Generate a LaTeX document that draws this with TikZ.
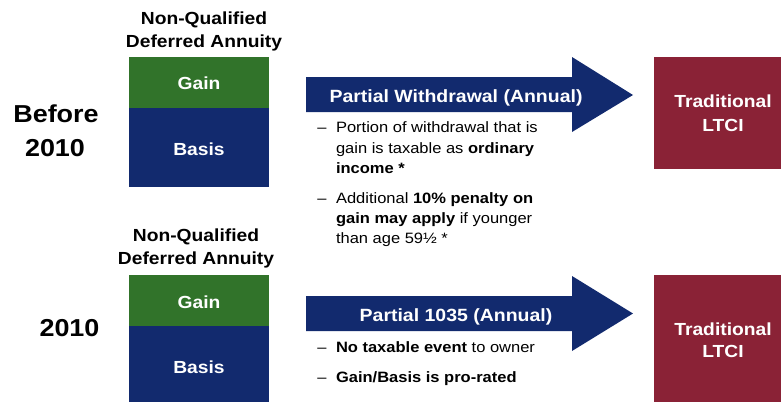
\documentclass[tikz,border=0pt]{standalone}
\usepackage{fontspec}
\setmainfont{Liberation Sans}[FakeStretch=1.1]
\definecolor{gaingreen}{HTML}{31732A}
\definecolor{basisnavy}{HTML}{122A6E}
\definecolor{ltcired}{HTML}{8A2236}
\begin{document}
\begin{tikzpicture}[x=1pt,y=-1pt,
  every node/.style={inner sep=0pt,outer sep=0pt},
  block/.style={anchor=north west,minimum width=#1,minimum height=0pt},
  era/.style={anchor=base,font=\fontsize{24.5}{28}\selectfont\bfseries},
  heading/.style={anchor=base,font=\fontsize{17.5}{21}\selectfont\bfseries},
  boxlabel/.style={anchor=base,text=white,font=\fontsize{17.5}{21}\selectfont\bfseries},
  arrowlabel/.style={anchor=base,text=white,font=\fontsize{17.7}{21}\selectfont\bfseries},
  bulletline/.style={anchor=base west,font=\fontsize{15}{20}\selectfont},
  bulletdash/.style={anchor=base,font=\fontsize{15}{20}\selectfont}]
\useasboundingbox (0,0) rectangle (781,402);

% ---------- before 2010 ----------
\node[era] (before1) at (56,122) {Before};
\node[era] (before2) at (55,156) {2010};

\node[heading] (nq1) at (204,24) {Non-Qualified};
\node[heading] (da1) at (204,47) {Deferred Annuity};

\fill[gaingreen] (129,57) rectangle (269,108);
\fill[basisnavy] (129,108) rectangle (269,187);
\coordinate (gainbox1) at (199,82.5);
\coordinate (basisbox1) at (199,147.5);
\node[boxlabel] (gain1) at (199,89) {Gain};
\node[boxlabel] (basis1) at (199,155) {Basis};

\fill[basisnavy] (306,77) -- (572,77) -- (572,57) -- (633,95)
  -- (572,132) -- (572,112) -- (306,112) -- cycle;
\node[arrowlabel] (pw) at (456,102) {Partial Withdrawal (Annual)};

\node[bulletdash] (d11) at (322,132) {–};
\node[bulletline] (b11) at (336,132) {Portion of withdrawal that is};
\node[bulletline] (b12) at (336,153) {gain is taxable as \textbf{ordinary}};
\node[bulletline] (b13) at (336,173) {\textbf{income *}};
\node[bulletdash] (d12) at (322,203) {–};
\node[bulletline] (b14) at (336,203) {Additional \textbf{10\% penalty on}};
\node[bulletline] (b15) at (336,223) {\textbf{gain may apply} if younger};
\node[bulletline] (b16) at (336,243) {than age 59½ *};

\fill[ltcired] (654,57) rectangle (781,169);
\node[boxlabel] (lt1) at (723,107) {Traditional};
\node[boxlabel] (lt2) at (723,131) {LTCI};

% ---------- 2010 ----------
\node[era] (y2010) at (69.5,336) {2010};

\node[heading] (nq2) at (196,241) {Non-Qualified};
\node[heading] (da2) at (196,264) {Deferred Annuity};

\fill[gaingreen] (129,275) rectangle (269,326);
\fill[basisnavy] (129,326) rectangle (269,402);
\node[boxlabel] (gain2) at (199,308) {Gain};
\node[boxlabel] (basis2) at (199,373) {Basis};

\fill[basisnavy] (306,296) -- (572,296) -- (572,276) -- (633,313.5)
  -- (572,351) -- (572,331) -- (306,331) -- cycle;
\node[arrowlabel] (p1035) at (456,321) {Partial 1035 (Annual)};

\node[bulletdash] (d21) at (322,352) {–};
\node[bulletline] (b21) at (336,352) {\textbf{No taxable event} to owner};
\node[bulletdash] (d22) at (322,382) {–};
\node[bulletline] (b22) at (336,382) {\textbf{Gain/Basis is pro-rated}};

\fill[ltcired] (654,275) rectangle (781,402);
\node[boxlabel] (lt3) at (723,335) {Traditional};
\node[boxlabel] (lt4) at (723,357) {LTCI};
\end{tikzpicture}
\end{document}
